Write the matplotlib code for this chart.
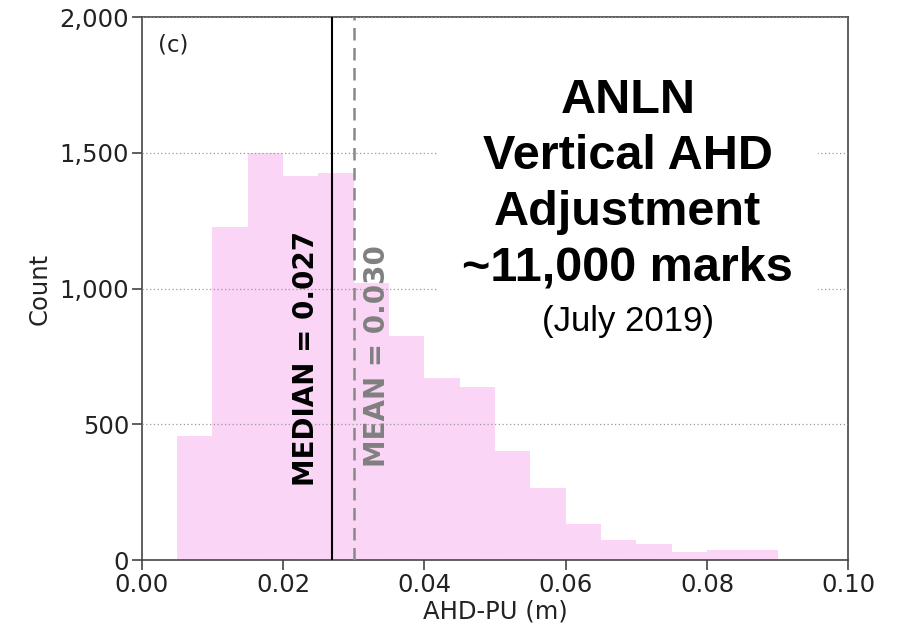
import matplotlib
matplotlib.use("Agg")
import matplotlib.pyplot as plt
from matplotlib.patches import Rectangle
from matplotlib.ticker import StrMethodFormatter

# histogram bins (m) and counts
bin_edges = [0.005, 0.010, 0.015, 0.020, 0.025, 0.030, 0.035, 0.040, 0.045, 0.050,
             0.055, 0.060, 0.065, 0.070, 0.075, 0.080, 0.085, 0.090, 0.095, 0.100]
counts = [456, 1228, 1498, 1413, 1424, 1022, 825, 670, 636, 403,
          267, 131, 72, 58, 29, 36, 36, 5, 5]
median_val = 0.027
mean_val = 0.030
x_ticks = [0.00, 0.02, 0.04, 0.06, 0.08, 0.10]
y_ticks = [0, 500, 1000, 1500, 2000]

fig = plt.figure(figsize=(8.97, 6.31), dpi=100)
ax = fig.add_axes([0.158, 0.1125, 0.7877, 0.8605])

ax.stairs(counts, bin_edges, fill=True, color="#fad5f5", zorder=1)

ax.set_xlim(0, 0.10)
ax.set_ylim(0, 2000)
ax.set_xticks(x_ticks)
ax.set_yticks(y_ticks)
ax.xaxis.set_major_formatter(StrMethodFormatter("{x:.2f}"))
ax.yaxis.set_major_formatter(StrMethodFormatter("{x:,.0f}"))
ax.tick_params(labelsize=17.5, length=7, width=1.2, color="#444444", labelcolor="#222222", pad=2)
ax.set_xlabel("AHD-PU (m)", fontsize=17.5, color="#222222", labelpad=2)
ax.set_ylabel("Count", fontsize=17.5, color="#222222", labelpad=6)
for s in ax.spines.values():
    s.set_color("#444444")
    s.set_linewidth(1.2)

ax.set_axisbelow(False)
ax.grid(axis="y", linestyle=(0, (1, 2)), color="#999999", linewidth=0.9, zorder=2)

# median / mean lines
ax.axvline(median_val, color="black", linewidth=1.5, zorder=3)
ax.axvline(mean_val, color="#888888", linewidth=1.8, linestyle=(0, (5, 3)), zorder=3)
ax.text(0.02325, 744, f"MEDIAN = {median_val:.3f}", rotation=90, ha="center", va="center",
        fontsize=20, fontweight="bold", color="black", zorder=4)
ax.text(0.03326, 750, f"MEAN = {mean_val:.3f}", rotation=90, ha="center", va="center",
        fontsize=20, fontweight="bold", color="#808080", zorder=4)

ax.text(0.045, 0.948, "(c)", transform=ax.transAxes, fontsize=16.5, color="#222222",
        ha="center", va="center")

# white panel behind the annotation text
ax.add_patch(Rectangle((0.419, 0.396), 0.538, 0.53, transform=ax.transAxes,
                       facecolor="white", edgecolor="none", zorder=3))

big_lines = ["ANLN", "Vertical AHD", "Adjustment", "~11,000 marks"]
for i, line in enumerate(big_lines):
    ax.text(0.688, 0.823 - i * 0.1026, line, transform=ax.transAxes, ha="center",
            va="baseline", fontsize=35, fontweight="bold", family="Liberation Sans",
            color="black", zorder=5)
ax.text(0.688, 0.422, "(July 2019)", transform=ax.transAxes, ha="center", va="baseline",
        fontsize=25, family="Liberation Sans", color="black", zorder=5)

fig.savefig("out.png", dpi=100)
